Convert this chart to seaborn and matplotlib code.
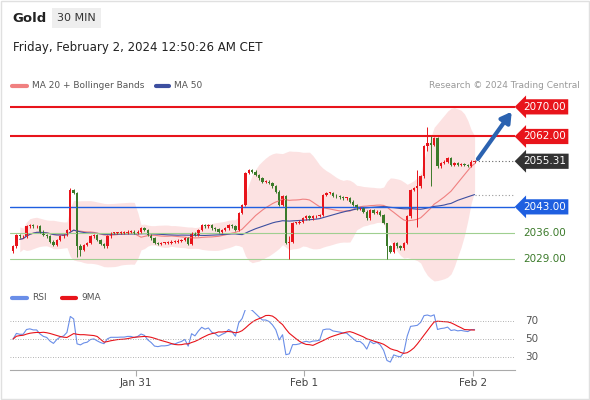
import numpy as np
import pandas as pd
import matplotlib
matplotlib.use('Agg')
import matplotlib.pyplot as plt
import seaborn as sns

# closes of the 30 min candles
closes = [2032.3, 2035.4, 2035.0, 2035.0, 2037.7, 2038.1, 2037.7, 2037.7, 2036.3, 2035.4,
          2035.0, 2033.6, 2032.7, 2034.1, 2035.0, 2035.4, 2036.8, 2047.6, 2046.7, 2032.3,
          2031.4, 2032.7, 2033.2, 2035.0, 2035.4, 2034.1, 2033.0, 2032.3, 2035.0, 2035.9,
          2035.9, 2035.9, 2036.0, 2036.0, 2036.3, 2036.3, 2035.9, 2036.3, 2037.2, 2036.8,
          2035.4, 2034.5, 2033.2, 2033.0, 2033.2, 2033.2, 2033.3, 2033.6, 2033.6, 2033.9,
          2034.1, 2034.5, 2033.0, 2035.9, 2035.4, 2036.8, 2038.1, 2037.7, 2038.1, 2037.2,
          2036.9, 2036.3, 2036.8, 2037.2, 2038.1, 2037.7, 2036.8, 2041.3, 2043.5, 2052.1,
          2053.0, 2052.5, 2051.6, 2050.7, 2049.8, 2049.8, 2049.4, 2048.5, 2047.1, 2043.5,
          2045.8, 2033.2, 2033.6, 2038.6, 2038.6,
          2039.0, 2039.9, 2040.4, 2039.9, 2040.4, 2040.5, 2040.8, 2046.2, 2046.7, 2046.7,
          2046.0, 2045.8, 2045.6, 2045.3, 2045.3, 2044.4, 2043.5, 2042.6, 2042.6, 2041.7,
          2039.9, 2042.2, 2041.3, 2041.7, 2040.8, 2038.6, 2032.3, 2030.9, 2033.2, 2032.3,
          2031.8, 2033.2, 2040.4, 2047.6, 2048.0, 2048.5, 2051.2, 2059.3, 2060.2, 2059.7,
          2061.5, 2053.9, 2054.8, 2055.2, 2056.1, 2054.3, 2054.8, 2054.3, 2054.6, 2054.3,
          2054.1, 2055.2, 2055.31]
first_open = 2031.0
# a few long wicks visible in the picture: index -> (high, low)
wicks = {17: (2048.2, 2036.5), 19: (2047.0, 2029.5), 20: (2033.0, 2029.8),
         82: (2035.0, 2029.0), 111: (2034.0, 2029.0), 120: (2053.0, 2037.5),
         123: (2064.5, 2058.0), 124: (2062.0, 2048.5)}

levels_red = [2070.00, 2062.00]
level_blue = 2043.00
levels_green = [2036.00, 2029.00]
last_price = 2055.31
day_labels = ['Jan 31', 'Feb 1', 'Feb 2']
day_pos = [36.5, 86.3, 136.5]
rsi_ticks = [70, 50, 30]

df = pd.DataFrame({'close': closes})
df['i'] = np.arange(len(df))
df['open'] = df['close'].shift(1).fillna(first_open)
df['high'] = df[['open', 'close']].max(axis=1) + 0.35
df['low'] = df[['open', 'close']].min(axis=1) - 0.35
for k, (h, l) in wicks.items():
    df.loc[k, 'high'] = h
    df.loc[k, 'low'] = l

df['ma20'] = df['close'].rolling(20, min_periods=3).mean()
sd = df['close'].rolling(20, min_periods=3).std()
df['bb_up'] = df['ma20'] + 2 * sd
df['bb_lo'] = df['ma20'] - 2 * sd
df['ma50'] = df['close'].rolling(50, min_periods=3).mean()

# rsi, seeded with a balanced average so the first bars don't blow up
delta = df['close'].diff().fillna(0)
seed = 0.9
gain = pd.concat([pd.Series([seed]), delta.clip(lower=0)]).ewm(alpha=1 / 14, adjust=False).mean().iloc[1:]
loss = pd.concat([pd.Series([seed]), (-delta).clip(lower=0)]).ewm(alpha=1 / 14, adjust=False).mean().iloc[1:]
df['rsi'] = (100 - 100 / (1 + gain / loss)).values
df['rsi9'] = df['rsi'].rolling(9, min_periods=1).mean()

sns.set_style('white')
plt.rcParams['font.family'] = ['DejaVu Sans']

fig = plt.figure(figsize=(5.9, 4.0), dpi=100)
ax = fig.add_axes([10 / 590, 1 - 285 / 400, 505 / 590, 190 / 400])
ax2 = fig.add_axes([10 / 590, 1 - 370 / 400, 505 / 590, 60 / 400])

RED = '#e8141b'
GREEN = '#3b7a2a'
BLUE = '#1f5fe0'

# bollinger band
ax.fill_between(df['i'], df['bb_lo'], df['bb_up'], color='#fbd9d9', alpha=0.75, lw=0)
sns.lineplot(data=df, x='i', y='ma20', ax=ax, color='#f08080', lw=0.8)
sns.lineplot(data=df, x='i', y='ma50', ax=ax, color='#3d4fa0', lw=0.8)

# levels
for lv in levels_red:
    ax.axhline(lv, color=RED, lw=1.5)
ax.axhline(level_blue, color=BLUE, lw=1)
for lv in levels_green:
    ax.axhline(lv, color='#9fcf90', lw=0.8)

# candles
up = df['close'] >= df['open']
colors = np.where(up, RED, GREEN)
ax.vlines(df['i'], df['low'], df['high'], colors=colors, lw=0.7)
ax.bar(df['i'], (df['close'] - df['open']).abs().clip(lower=0.25),
       bottom=df[['open', 'close']].min(axis=1), width=0.7, color=colors, lw=0)

n = len(df)
ax.hlines(last_price, n - 1, 149, colors='#666666', lw=0.8, linestyles=(0, (1, 2)))
ax.hlines(df['ma50'].iloc[-1], n - 1, 149, colors='#999999', lw=0.8, linestyles=(0, (1, 2)))
ax.annotate('', xy=(148.5, 2069.3), xytext=(n - 0.5, last_price),
            arrowprops=dict(arrowstyle='-|>,head_width=0.35,head_length=0.6',
                            color='#2b62b0', lw=3))

ax.set_xlim(-0.9, 149)
ax.set_ylim(2021.9, 2073.2)
ax.axis('off')

# right labels
def tag(y, txt, bg, fg='white'):
    yf = ax.transData.transform((0, y))[1] / fig.bbox.height
    fig.text(523 / 590, yf, txt, ha='left', va='center', fontsize=7.5, color=fg,
             bbox=dict(boxstyle='larrow,pad=0.25', fc=bg, ec='none') if bg else None)

tag(2070.0, '2070.00', RED)
tag(2062.0, '2062.00', RED)
tag(last_price, '2055.31', '#333333')
tag(2043.0, '2043.00', BLUE)
tag(2036.0, '2036.00', None, '#3b7a2a')
tag(2029.0, '2029.00', None, '#3b7a2a')

# RSI panel
sns.lineplot(data=df, x='i', y='rsi', ax=ax2, color='#6a8ee8', lw=0.8)
sns.lineplot(data=df, x='i', y='rsi9', ax=ax2, color='#e8141b', lw=0.8)
for t in rsi_ticks:
    ax2.axhline(t, color='#999999', lw=0.6, ls=(0, (1, 2)))
    ax2.text(1.02, t, str(t), transform=ax2.get_yaxis_transform(), fontsize=7.5,
             color='#555555', va='center', ha='left')
ax2.set_xlim(-0.9, 149)
ax2.set_ylim(16, 82)
ax2.set_xticks(day_pos)
ax2.set_xticklabels(day_labels, fontsize=7.5, color='#444444')
ax2.set_yticks([])
ax2.set_xlabel('')
ax2.set_ylabel('')
for s in ['top', 'right', 'left']:
    ax2.spines[s].set_visible(False)
ax2.spines['bottom'].set_color('#aaaaaa')
ax2.tick_params(axis='x', length=4, color='#aaaaaa', pad=2, bottom=True)

# header
fig.text(12 / 590, 1 - 18 / 400, 'Gold', fontsize=9.5, fontweight='bold', va='center', color='#222222')
fig.text(57 / 590, 1 - 18 / 400, '30 MIN', fontsize=8, va='center', color='#333333',
         bbox=dict(boxstyle='square,pad=0.45', fc='#eeeeee', ec='none'))
fig.text(13 / 590, 1 - 48 / 400, 'Friday, February 2, 2024 12:50:26 AM CET', fontsize=8.5,
         va='center', color='#222222')

# legends
def legend_item(x0, x1, y, color, label):
    fig.lines.append(plt.Line2D([x0 / 590, x1 / 590], [1 - y / 400] * 2, color=color, lw=3,
                                transform=fig.transFigure))
    fig.text((x1 + 5) / 590, 1 - y / 400, label, fontsize=6.5, va='center', color='#555555')

legend_item(12, 27, 86, '#f08080', 'MA 20 + Bollinger Bands')
legend_item(156, 169, 86, '#3d4fa0', 'MA 50')
legend_item(12, 27, 298, '#6a8ee8', 'RSI')
legend_item(62, 76, 298, RED, '9MA')
fig.text(580 / 590, 1 - 86 / 400, 'Research © 2024 Trading Central', fontsize=6.5, va='center',
         ha='right', color='#999999')

fig.patches.append(plt.Rectangle((0.002, 0.002), 0.996, 0.996, fill=False, ec='#e0e0e0', lw=1,
                                 transform=fig.transFigure))

fig.savefig('out.png', dpi=100)
